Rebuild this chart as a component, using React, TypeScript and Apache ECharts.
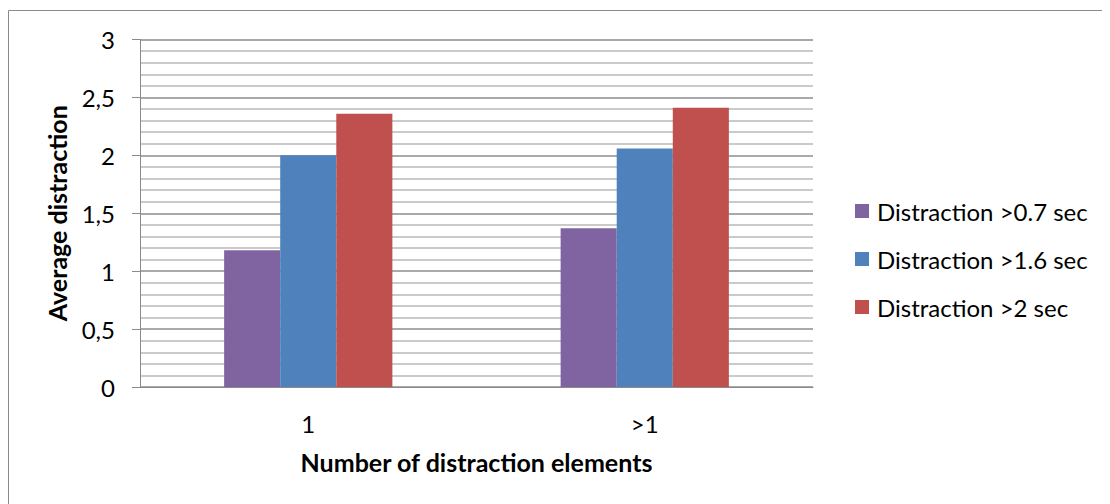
import React, { useEffect, useRef } from "react";
import * as echarts from "echarts";

const categories = ["1", ">1"];
const seriesNames = ["Distraction >0.7 sec", "Distraction >1.6 sec", "Distraction >2 sec"];
const distraction07 = [1.18, 1.37];
const distraction16 = [2.0, 2.06];
const distraction2 = [2.36, 2.41];
const seriesColors = ["#8064A2", "#4F81BD", "#C0504D"];

const FONT = "Lato, 'Noto Sans', sans-serif";

export default function App() {
  const ref = useRef<HTMLDivElement>(null);

  useEffect(() => {
    if (!ref.current) return;
    const chart = echarts.init(ref.current, undefined, { renderer: "svg" });
    const values = [distraction07, distraction16, distraction2];
    chart.setOption({
      animation: false,
      textStyle: { fontFamily: FONT },
      graphic: [
        {
          type: "rect",
          shape: { x: 0.5, y: 2.5, width: 2000, height: 2000 },
          style: { fill: "none", stroke: "#8a8a8a", lineWidth: 1 },
          silent: true,
          z: -10,
        },
      ],
      grid: { left: 132, right: 297, top: 31.5, bottom: 117 },
      legend: {
        orient: "vertical",
        left: 842,
        top: 186,
        itemWidth: 14,
        itemHeight: 14,
        itemGap: 24,
        icon: "rect",
        data: seriesNames,
        textStyle: { fontFamily: FONT, fontSize: 24, color: "#000", padding: [0, 0, 0, 3] },
      },
      xAxis: {
        type: "category",
        data: categories,
        name: "Number of distraction elements",
        nameLocation: "middle",
        nameGap: 62,
        nameTextStyle: { fontFamily: FONT, fontSize: 25, fontWeight: "bold", color: "#000" },
        axisLine: { lineStyle: { color: "#8a8a8a", width: 1 } },
        axisTick: { show: false },
        axisLabel: { margin: 24, fontFamily: FONT, fontSize: 24, color: "#000" },
      },
      yAxis: {
        type: "value",
        min: 0,
        max: 3,
        interval: 0.5,
        name: "Average distraction",
        nameLocation: "middle",
        nameGap: 71,
        nameTextStyle: { fontFamily: FONT, fontSize: 25, fontWeight: "bold", color: "#000" },
        axisLine: { show: true, lineStyle: { color: "#8a8a8a", width: 1 } },
        axisTick: { show: true, length: 8, lineStyle: { color: "#8a8a8a" } },
        axisLabel: {
          margin: 25,
          fontFamily: FONT,
          fontSize: 24,
          color: "#000",
          formatter: (v: number) => String(v).replace(".", ","),
        },
        splitLine: { show: true, lineStyle: { color: "#8c8c8c", width: 1.5 } },
        minorTick: { show: false, splitNumber: 5 },
        minorSplitLine: { show: true, lineStyle: { color: "#b8b8b8", width: 1.5 } },
      },
      series: seriesNames.map((name, i) => ({
        name,
        type: "bar",
        data: values[i],
        barGap: "0%",
        barCategoryGap: "50%",
        itemStyle: { color: seriesColors[i] },
      })),
    });
    return () => chart.dispose();
  }, []);

  return <div ref={ref} style={{ width: 1102, height: 496 }} />;
}
